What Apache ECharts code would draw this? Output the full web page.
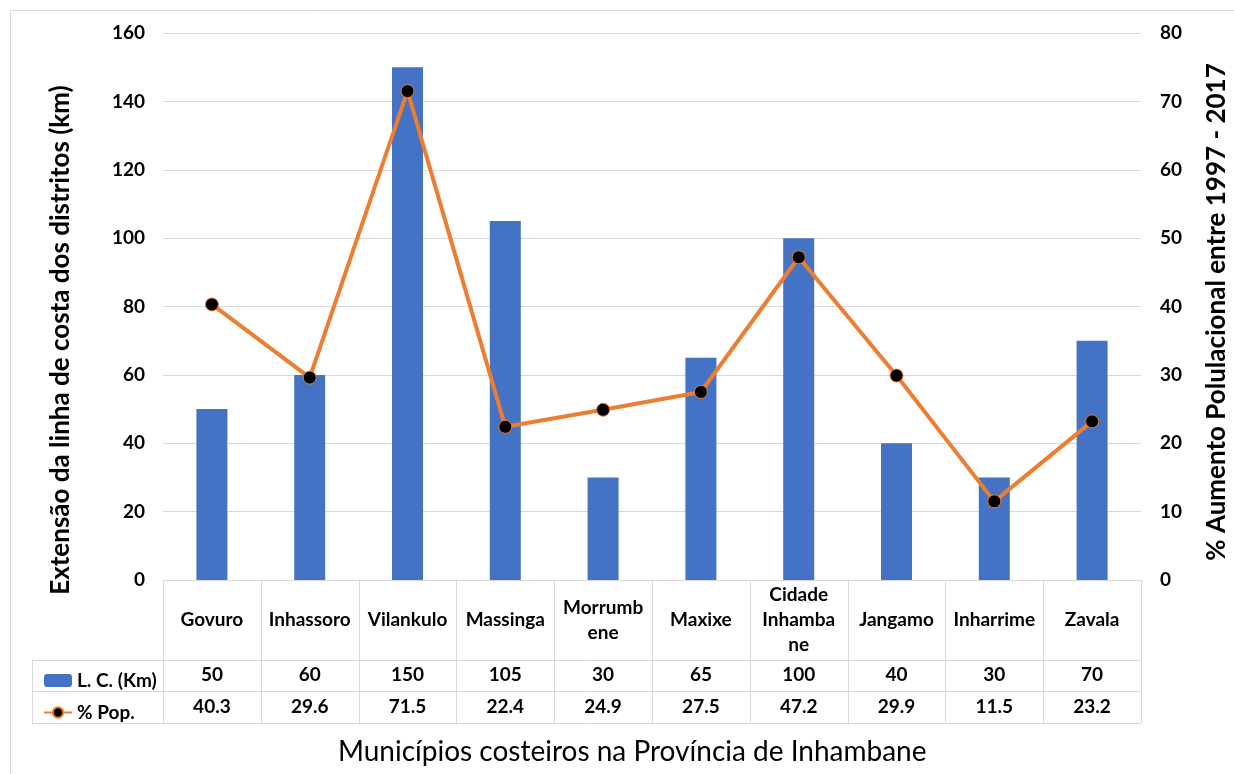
<!DOCTYPE html>
<html>
<head>
<meta charset="utf-8">
<script src="https://cdn.jsdelivr.net/npm/echarts@6/dist/echarts.min.js"></script>
<style>
  html, body { margin: 0; padding: 0; background: #ffffff; }
  #chart { width: 1234px; height: 774px; }
</style>
</head>
<body>
<div id="chart"></div>
<script>
// Coastal districts of Inhambane province
const categories = ['Govuro', 'Inhassoro', 'Vilankulo', 'Massinga', 'Morrumbene', 'Maxixe', 'Cidade Inhambane', 'Jangamo', 'Inharrime', 'Zavala'];
// Header labels as wrapped in the data table
const categoryLabels = ['Govuro', 'Inhassoro', 'Vilankulo', 'Massinga', 'Morrumb\nene', 'Maxixe', 'Cidade\nInhamba\nne', 'Jangamo', 'Inharrime', 'Zavala'];
// Coastline length (km)
const coastLengthKm = [50, 60, 150, 105, 30, 65, 100, 40, 30, 70];
// Population increase 1997 - 2017 (%)
const popIncreasePct = [40.3, 29.6, 71.5, 22.4, 24.9, 27.5, 47.2, 29.9, 11.5, 23.2];
// Axis ranges
const leftAxisRange = { min: 0, max: 160, interval: 20 };
const rightAxisRange = { min: 0, max: 80, interval: 10 };

const FONT = 'Lato, "Open Sans", sans-serif';
const W = 1234, H = 774;
const PLOT_L = 163, PLOT_R = 1141, PLOT_T = 33, PLOT_B = 580;
const TABLE_L = 32, ROW1_B = 660, ROW2_B = 691, ROW3_B = 723;
const GRID_COLOR = '#d9d9d9';
const nCols = categories.length;
const colW = (PLOT_R - PLOT_L) / nCols;

// Data table rules
const tableLines = [];
for (let i = 0; i <= nCols; i++) {
  const x = Math.round(PLOT_L + i * colW) + 0.5;
  tableLines.push({ type: 'line', shape: { x1: x, y1: PLOT_B, x2: x, y2: ROW3_B }, style: { stroke: GRID_COLOR, lineWidth: 1 }, silent: true });
}
[ROW1_B, ROW2_B, ROW3_B].forEach(function (y) {
  tableLines.push({ type: 'line', shape: { x1: TABLE_L, y1: y + 0.5, x2: PLOT_R, y2: y + 0.5 }, style: { stroke: GRID_COLOR, lineWidth: 1 }, silent: true });
});
tableLines.push({ type: 'line', shape: { x1: TABLE_L + 0.5, y1: ROW1_B, x2: TABLE_L + 0.5, y2: ROW3_B }, style: { stroke: GRID_COLOR, lineWidth: 1 }, silent: true });

// Axis titles and the category title
const titleTexts = [
  {
    type: 'text', x: 61, y: 340, rotation: Math.PI / 2, silent: true,
    style: { text: 'Extensão da linha de costa dos distritos (km)', fill: '#000', font: 'bold 26px ' + FONT, align: 'center', verticalAlign: 'middle' }
  },
  {
    type: 'text', x: 1217, y: 312, rotation: Math.PI / 2, silent: true,
    style: { text: '% Aumento Polulacional entre 1997 - 2017', fill: '#000', font: 'bold 26px ' + FONT, align: 'center', verticalAlign: 'middle' }
  },
  {
    type: 'text', x: 338, y: 752, silent: true,
    style: { text: 'Municípios costeiros na Província de Inhambane', fill: '#000', font: 'normal 28px ' + FONT, align: 'left', verticalAlign: 'middle' }
  }
];

const chart = echarts.init(document.getElementById('chart'), null, { renderer: 'canvas' });

const bold = { fontFamily: FONT, fontWeight: 'bold', color: '#000' };

function rowAxis(offset, values, digits) {
  return {
    type: 'category',
    data: categories,
    position: 'bottom',
    offset: offset,
    axisLine: { show: false },
    axisTick: { show: false },
    splitLine: { show: false },
    axisLabel: Object.assign({}, bold, {
      interval: 0,
      fontSize: 19,
      margin: 0,
      verticalAlign: 'middle',
      formatter: function (v, i) { return digits ? values[i].toFixed(digits) : String(values[i]); }
    })
  };
}

chart.setOption({
  backgroundColor: '#ffffff',
  animation: false,
  legend: {
    orient: 'vertical',
    left: 38,
    top: 664,
    itemWidth: 28,
    itemHeight: 13,
    itemGap: 9,
    textStyle: Object.assign({}, bold, { fontSize: 19, lineHeight: 23 }),
    data: ['L. C. (Km)', '% Pop.']
  },
  grid: { left: PLOT_L, right: W - PLOT_R, top: PLOT_T, bottom: H - PLOT_B, containLabel: false },
  xAxis: [
    {
      type: 'category',
      data: categories,
      position: 'bottom',
      axisLine: { show: true, lineStyle: { color: GRID_COLOR, width: 1 } },
      axisTick: { show: false },
      axisLabel: Object.assign({}, bold, {
        interval: 0,
        fontSize: 19,
        lineHeight: 25,
        margin: 40,
        verticalAlign: 'middle',
        formatter: function (v, i) { return categoryLabels[i]; }
      })
    },
    rowAxis(95, coastLengthKm, 0),
    rowAxis(127, popIncreasePct, 1)
  ],
  yAxis: [
    {
      type: 'value',
      min: leftAxisRange.min,
      max: leftAxisRange.max,
      interval: leftAxisRange.interval,
      position: 'left',
      axisLine: { show: false },
      axisTick: { show: false },
      splitLine: { lineStyle: { color: GRID_COLOR, width: 1 } },
      axisLabel: Object.assign({}, bold, { fontSize: 19, margin: 18 })
    },
    {
      type: 'value',
      min: rightAxisRange.min,
      max: rightAxisRange.max,
      interval: rightAxisRange.interval,
      position: 'right',
      axisLine: { show: false },
      axisTick: { show: false },
      splitLine: { show: false },
      axisLabel: Object.assign({}, bold, { fontSize: 19, margin: 19 })
    }
  ],
  series: [
    {
      name: 'L. C. (Km)',
      type: 'bar',
      xAxisIndex: 0,
      yAxisIndex: 0,
      barWidth: 31,
      itemStyle: { color: '#4472c4' },
      data: coastLengthKm
    },
    {
      name: '% Pop.',
      type: 'line',
      xAxisIndex: 0,
      yAxisIndex: 1,
      symbol: 'circle',
      symbolSize: 13,
      lineStyle: { color: '#ed7d31', width: 4 },
      itemStyle: { color: '#000000', borderColor: '#ed7d31', borderWidth: 1 },
      data: popIncreasePct
    }
  ],
  graphic: [
    { type: 'rect', shape: { x: 10.5, y: 10.5, width: 1240, height: 780 }, style: { fill: 'none', stroke: GRID_COLOR, lineWidth: 1 }, silent: true, z: -10 }
  ].concat(tableLines, titleTexts)
});
</script>
</body>
</html>
